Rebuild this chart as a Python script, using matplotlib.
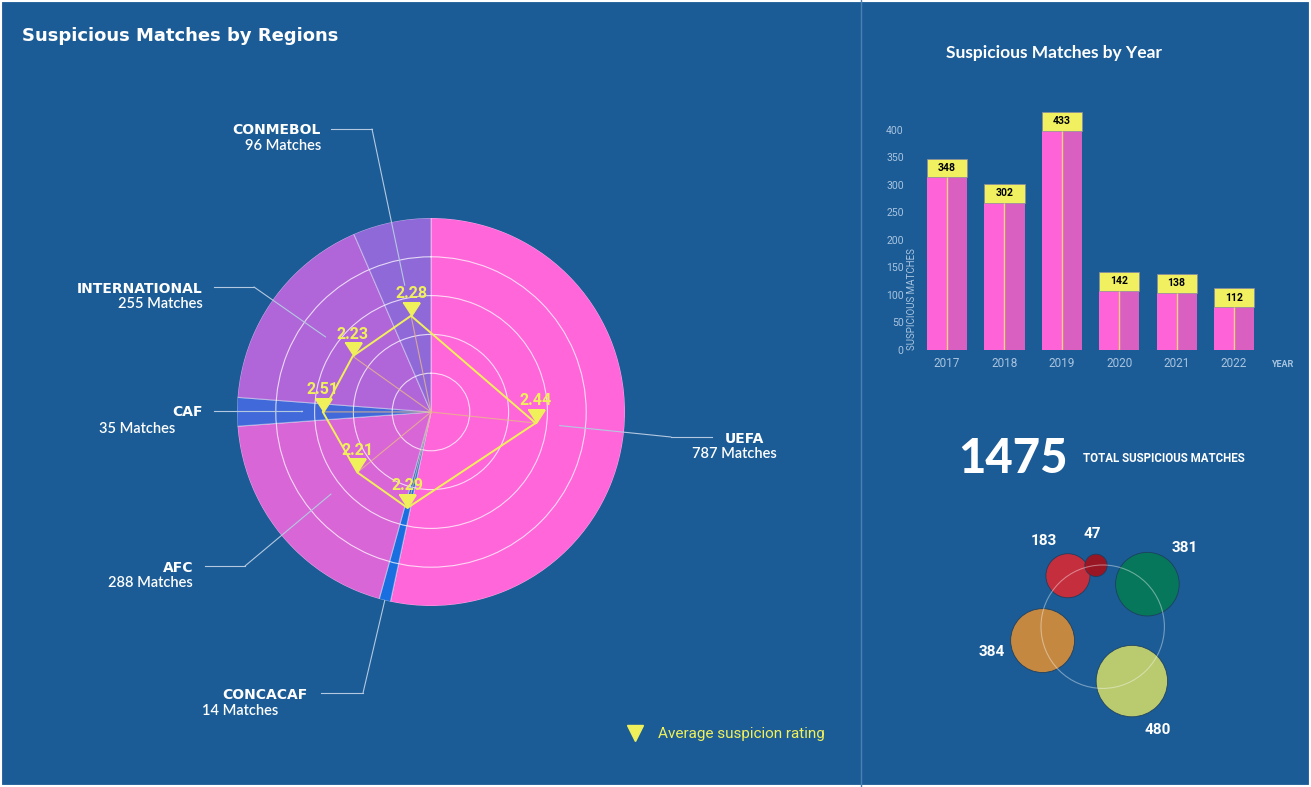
#!/usr/bin/env python3
# -*- coding: utf-8 -*-
"""
filename: suspicious-matches dashboard
"""
import numpy as np
import matplotlib
matplotlib.use('Agg')
import matplotlib.pyplot as plt
from matplotlib.lines import Line2D
from matplotlib.patches import Circle, Rectangle

# data
regions = ['UEFA', 'CONCACAF', 'AFC', 'CAF', 'INTERNATIONAL', 'CONMEBOL']
region_matches = [787, 14, 288, 35, 255, 96]
avg_rating = [2.44, 2.29, 2.21, 2.51, 2.23, 2.28]

years = ['2017', '2018', '2019', '2020', '2021', '2022']
year_matches = [348, 302, 433, 142, 138, 112]

bubble_values = [183, 47, 381, 480, 384]
total_matches = 1475

# styles
BG = '#1b5c96'
YEL = '#f0f05a'
LIGHT = '#a9c4e0'
LEAD = '#b4c8e0'
region_colors = ['#ff66d9', '#1a6fe0', '#d966d6', '#4169d9', '#b066d9', '#9069d9']
bubble_colors = ['#d42a36', '#a5101c', '#057a56', '#c8d46c', '#d48c3a']
bubble_angles = [124.3, 96.2, 43.6, 298.2, 193.0]

W, H = 1311, 787


def fx(px):
    return px / W


def fy(py):
    return 1 - py / H


def main():
    fig = plt.figure(figsize=(W / 100, H / 100), dpi=100)
    fig.patch.set_facecolor(BG)

    plot_regions(fig)
    plot_years(fig)
    plot_bubbles(fig)

    # frame + separator
    fig.add_artist(Line2D([fx(861), fx(861)], [0, 1], color='#4b80b3', lw=1))
    fig.add_artist(Rectangle((0, 0), 1, 1, transform=fig.transFigure,
                             fill=False, ec='white', lw=3))

    fig.savefig('out.png', dpi=100, facecolor=BG)


def plot_regions(fig):
    cx, cy, R = 431, 412, 194
    ax = fig.add_axes([fx(cx - R), fy(cy + R), 2 * R / W, 2 * R / H], projection='polar')
    ax.set_facecolor('none')
    ax.set_theta_zero_location('N')
    ax.set_theta_direction(-1)

    rmax = 4.5
    frac = np.array(region_matches) / sum(region_matches)
    widths = 2 * np.pi * frac
    starts = np.concatenate([[0], np.cumsum(widths)[:-1]])
    centers = starts + widths / 2

    ax.bar(starts, rmax, width=widths, bottom=0, align='edge', color=region_colors,
           edgecolor=(1, 1, 1, 0.4), linewidth=0.8)
    ax.set_ylim(0, rmax)
    ax.set_yticks([0.9, 1.8, 2.7, 3.6])
    ax.set_yticklabels([])
    ax.set_xticks([])
    ax.yaxis.grid(True, color='white', alpha=0.75, lw=0.8)
    ax.spines['polar'].set_visible(False)

#    radar of average rating
    for t, v in zip(centers, avg_rating):
        ax.plot([t, t], [0, v], color='#e8b888', lw=0.8, alpha=0.8, zorder=4)
    th = np.append(centers, centers[0])
    rv = np.append(avg_rating, avg_rating[0])
    ax.plot(th, rv, color=YEL, lw=1.4, zorder=5)
    tri = [(-1.3, 2), (1.3, 2), (0, 0)]
    ax.plot(centers, avg_rating, ls='none', marker=tri, ms=19, color=YEL, zorder=6)
    for t, v in zip(centers, avg_rating):
        ax.annotate('%.2f' % v, xy=(t, v), xytext=(0, 16), textcoords='offset points',
                    ha='center', va='center', color=YEL, fontsize=11.5,
                    fontweight='bold', family='Roboto', zorder=7)

#    labels with leader lines: name pos, count pos, align, start, elbow, end radius
    lab = {
        'UEFA': ((744, 439), (734, 454), 'center', (712, 437), (671, 437), 3.0),
        'CONCACAF': ((222, 695), (202, 711), 'left', (321, 693), (363, 693), rmax),
        'AFC': ((193, 568), (193, 583), 'right', (205, 566), (245, 566), 3.0),
        'CAF': ((203, 412), (175, 429), 'right', (214, 411), (302, 411), 3.0),
        'INTERNATIONAL': ((203, 289), (203, 304), 'right', (214, 287), (254, 287), 3.0),
        'CONMEBOL': ((321, 130), (321, 146), 'right', (331, 129), (372, 129), 3.0),
    }
    for i, name in enumerate(regions):
        npos, cpos, ha, s, e, rend = lab[name]
        fig.text(fx(npos[0]), fy(npos[1]), name, ha=ha, va='center', color='white',
                 fontsize=10, fontweight='bold', family='DejaVu Sans')
        fig.text(fx(cpos[0]), fy(cpos[1]), '%d Matches' % region_matches[i], ha=ha,
                 va='center', color='white', fontsize=10.5, fontweight='semibold',
                 family='Lato')
        fig.add_artist(Line2D([fx(s[0]), fx(e[0])], [fy(s[1]), fy(e[1])],
                              color=LEAD, lw=0.8))
        ax.annotate('', xy=(centers[i], rend), xytext=(fx(e[0]), fy(e[1])),
                    textcoords='figure fraction',
                    arrowprops=dict(arrowstyle='-', color=LEAD, lw=0.8,
                                    shrinkA=0, shrinkB=0), zorder=3)

    fig.text(fx(22), fy(36), 'Suspicious Matches by Regions', ha='left', va='center',
             color='white', fontsize=13, fontweight='bold', family='DejaVu Sans')

    h = Line2D([], [], ls='none', marker='v', ms=11, color=YEL)
    fig.legend([h], ['Average suspicion rating'], loc='center left',
               bbox_to_anchor=(fx(606), fy(734)), frameon=False, labelcolor=YEL,
               prop=dict(family='Roboto', size=11), handletextpad=0.5)


def plot_years(fig):
    bx = fig.add_axes([fx(910), fy(350), fx(1300) - fx(910), (350 - 100) / H])
    bx.set_facecolor('none')
    x = np.arange(len(years))
    vals = np.array(year_matches)
    bw = 0.70
    cap = 34

    bx.bar(x - bw / 4, vals - cap, width=bw / 2, color='#ff63d8')
    bx.bar(x + bw / 4, vals - cap, width=bw / 2, color='#d95fc0')
    bx.bar(x, cap, bottom=vals - cap, width=bw, color='#f0f060', edgecolor='#8a8aa0', lw=0.5)
    bx.vlines(x, 0, vals - cap, color='#f5d080', lw=1)
    for xi, v in zip(x, vals):
        bx.text(xi, v - cap / 2, str(v), ha='center', va='center', color='black',
                fontsize=7.5, fontweight='bold', family='Roboto')

    bx.set_xlim(-0.645, 6.15)
    bx.set_ylim(0, 454.5)
    bx.set_xticks(x)
    bx.set_xticklabels(years)
    bx.set_yticks(range(0, 401, 50))
    bx.tick_params(axis='y', length=0, pad=4.5, labelcolor=LIGHT, labelsize=7.5)
    bx.tick_params(axis='x', length=0, pad=5, labelcolor=LIGHT, labelsize=8.5)
    for lbl in bx.get_xticklabels() + bx.get_yticklabels():
        lbl.set_family('Roboto')
    for sp in bx.spines.values():
        sp.set_visible(False)

    fig.text(fx(912), fy(350), 'SUSPICIOUS MATCHES', rotation=90, ha='center', va='bottom',
             color=LIGHT, fontsize=7, family='Roboto')
    fig.text(fx(1283), fy(364), 'YEAR', ha='center', va='center', color=LIGHT,
             fontsize=6.5, fontweight='bold', family='Roboto')
    fig.text(fx(1054), fy(53), 'Suspicious Matches by Year', ha='center', va='center',
             color='white', fontsize=12.5, fontweight='bold', family='Lato')


def plot_bubbles(fig):
    fig.text(fx(958), fy(459), str(total_matches), ha='left', va='center', color='white',
             fontsize=34, fontweight='black', family='Lato')
    fig.text(fx(1083), fy(459), 'TOTAL SUSPICIOUS MATCHES', ha='left', va='center',
             color='white', fontsize=8.3, fontweight='bold', family='Roboto')

    bub = fig.add_axes([fx(960), fy(760), 300 / W, 240 / H])
    bub.set_xlim(-142.7, 157.3)
    bub.set_ylim(-133.3, 106.7)
    bub.axis('off')
    ring = 61.7
    k = 1.63
    for v, a, c in zip(bubble_values, bubble_angles, bubble_colors):
        r = k * np.sqrt(v)
        ang = np.radians(a)
        bub.add_patch(Circle((ring * np.cos(ang), ring * np.sin(ang)), r, fc=c,
                             ec='#1d3d5c', lw=0.6, alpha=0.92))
        d = ring + r + 20
        bub.text(d * np.cos(ang), d * np.sin(ang), str(v), ha='center', va='center',
                 color='white', fontsize=11, fontweight='bold', family='Roboto')
    bub.add_patch(Circle((0, 0), ring, fill=False, ec='white', alpha=0.4, lw=0.8))


if __name__ == '__main__':
    main()
